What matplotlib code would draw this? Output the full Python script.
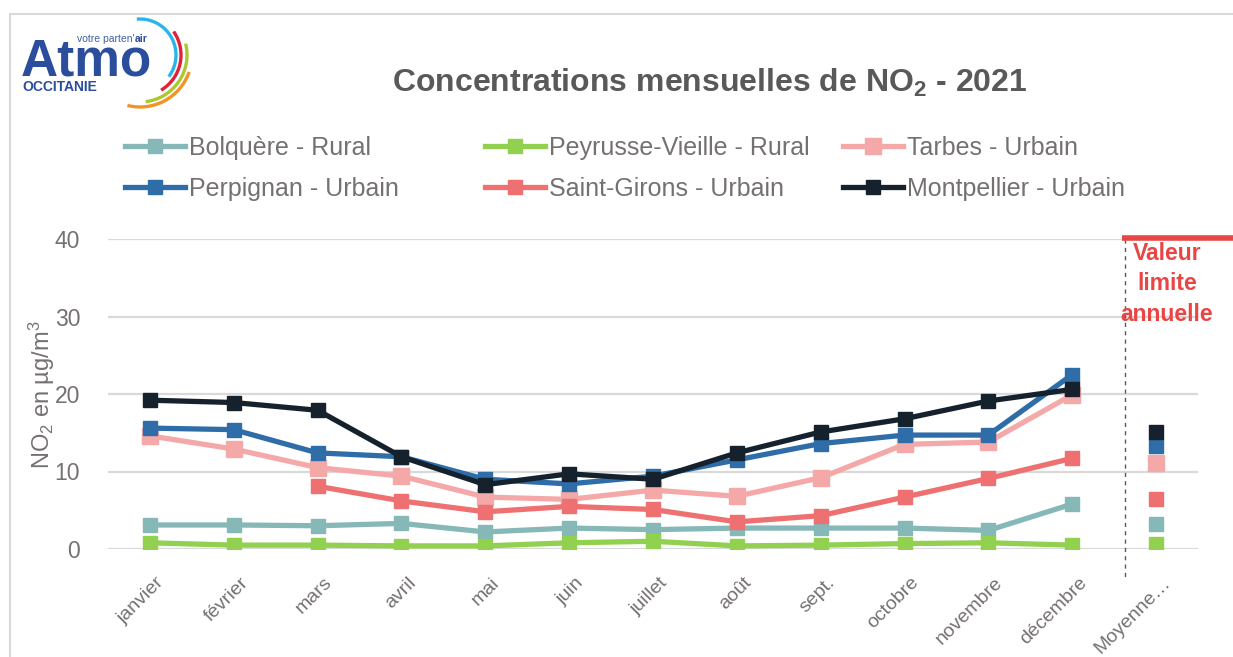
import numpy as np
import matplotlib
matplotlib.use("Agg")
import matplotlib.pyplot as plt
from matplotlib import font_manager
from matplotlib.patches import Arc, Rectangle
from matplotlib.transforms import ScaledTranslation

W, H = 1233, 657

# ---- data ----
months = ['janvier', 'février', 'mars', 'avril', 'mai', 'juin', 'juillet',
          'août', 'sept.', 'octobre', 'novembre', 'décembre']
last_label = 'Moyenne…'

bolquere = [3.1, 3.1, 3.0, 3.3, 2.2, 2.7, 2.5, 2.7, 2.7, 2.7, 2.4, 5.8]
peyrusse = [0.8, 0.5, 0.5, 0.4, 0.4, 0.8, 1.0, 0.4, 0.5, 0.7, 0.8, 0.5]
tarbes = [14.6, 12.9, 10.5, 9.4, 6.7, 6.4, 7.6, 6.8, 9.2, 13.5, 13.8, 19.9]
perpignan = [15.6, 15.4, 12.4, 11.9, 9.0, 8.4, 9.4, 11.5, 13.6, 14.7, 14.7, 22.5]
saint_girons = [np.nan, np.nan, 8.1, 6.2, 4.8, 5.5, 5.1, 3.5, 4.3, 6.7, 9.1, 11.7]
montpellier = [19.2, 18.9, 17.9, 11.9, 8.3, 9.7, 9.0, 12.4, 15.1, 16.8, 19.1, 20.6]

# annual means (last category)
mean_bolquere = 3.2
mean_peyrusse = 0.7
mean_tarbes = 11.1
mean_perpignan = 13.3
mean_saint_girons = 6.5
mean_montpellier = 15.1

limit_value = 40

names = ['Bolquère - Rural', 'Peyrusse-Vieille - Rural', 'Tarbes - Urbain',
         'Perpignan - Urbain', 'Saint-Girons - Urbain', 'Montpellier - Urbain']
colors = ['#86B8B7', '#92D050', '#F4A9A8', '#2E6DA8', '#EE7070', '#15222E']

# ---- fonts ----
installed = {f.name for f in font_manager.fontManager.ttflist}
narrow = 'Liberation Sans Narrow' if 'Liberation Sans Narrow' in installed else 'Liberation Sans'
plt.rcParams['font.family'] = [narrow, 'DejaVu Sans']
plt.rcParams['mathtext.default'] = 'regular'

grey_txt = '#767171'


def px(x, y):
    return x / W, 1 - y / H


fig = plt.figure(figsize=(W / 100, H / 100), dpi=100)

# outer frame
fig.patches.append(Rectangle(px(10, 700), 1.2, (700 - 14) / H, transform=fig.transFigure,
                             fill=False, edgecolor='#D9D9D9', lw=1.5))

# ---- main axes ----
ax = fig.add_axes([108 / W, 1 - 549 / H, 1090 / W, 310 / H])
x = np.arange(len(months))
series = [bolquere, peyrusse, tarbes, perpignan, saint_girons, montpellier]
means = [mean_bolquere, mean_peyrusse, mean_tarbes, mean_perpignan,
         mean_saint_girons, mean_montpellier]
handles = []
for vals, m, name, c in zip(series, means, names, colors):
    ms = 12 if c == '#F4A9A8' else 10
    h, = ax.plot(x, vals, color=c, lw=3.8, marker='s', ms=ms, mec=c, label=name,
                 solid_joinstyle='miter')
    ax.plot([len(months)], [m], ls='none', marker='s', ms=ms, color=c)
    handles.append(h)

ax.set_xlim(-0.5, 12.5)
ax.set_ylim(0, 40)
ax.set_yticks([0, 10, 20, 30, 40])
ax.grid(axis='y', color='#D9D9D9', lw=1.6)
ax.set_axisbelow(True)
for s in ax.spines.values():
    s.set_visible(False)
ax.tick_params(length=0)
ax.tick_params(axis='y', pad=20, labelsize=16.5, labelcolor=grey_txt)
ax.set_xticks(np.arange(len(months) + 1))
ax.set_xticklabels(months + [last_label], rotation=45, ha='right', va='center',
                   rotation_mode='anchor', fontsize=14, color=grey_txt)
ax.tick_params(axis='x', pad=0)
off = ScaledTranslation(0.12, -0.31, fig.dpi_scale_trans)
for lab in ax.get_xticklabels():
    lab.set_transform(lab.get_transform() + off)

# separation before the annual mean + limit value
ax.plot([11.63, 11.63], [40, -4.0], ls=(0, (3, 3)), color='#595959', lw=1, clip_on=False)
ax.plot([11.59, 13.0], [limit_value + 0.15, limit_value + 0.15], color='#E84545', lw=4,
        clip_on=False, solid_capstyle='butt')
fig.text(*px(1167, 284), 'Valeur\nlimite\nannuelle', ha='center', va='center',
         fontsize=16.5, fontweight='bold', color='#E84545', linespacing=1.4)

# y label
fig.text(*px(42, 395), 'NO$_2$ en µg/m$^3$', rotation=90, ha='center', va='center',
         fontsize=17, color=grey_txt)

# title
fig.text(*px(710, 92), 'Concentrations mensuelles de NO$_2$ - 2021', ha='center',
         va='baseline', fontsize=23, fontweight='bold', color='#595959')

# legend: three columns placed individually
cols = [(handles[0], handles[3], 125), (handles[1], handles[4], 485), (handles[2], handles[5], 843)]
for h1, h2, xl in cols:
    fig.legend(handles=[h1, h2], loc='upper left', bbox_to_anchor=px(xl, 136),
               frameon=False, fontsize=18, labelcolor=grey_txt, handlelength=2.4,
               handletextpad=0.15, labelspacing=0.68, borderpad=0, borderaxespad=0)

# ---- logo ----
lg = fig.add_axes([11 / W, 1 - 113 / H, 191 / W, 98 / H])
lg.set_xlim(11, 202)
lg.set_ylim(113, 15)
lg.axis('off')
lg.text(21, 75, 'Atmo', fontsize=37, fontweight='bold', color='#2A4D9C',
        family='Liberation Sans', va='baseline')
lg.text(22, 91, 'OCCITANIE', fontsize=10, fontweight='bold', color='#2A4D9C',
        family='Liberation Sans', va='baseline')
t = lg.text(77, 42, "votre parten'", fontsize=7.5, color='#3F5FA8',
            family='Liberation Sans', va='baseline')
lg.annotate('air', xy=(1, 0), xycoords=t, va='bottom', ha='left', fontsize=7.5,
            fontweight='bold', color='#2A4D9C', family='Liberation Sans')
for r, t1, t2, c in [(36, -95, 37, '#29B5E8'), (41, -35, 59, '#E3203A'),
                     (47, -14, 83, '#A9C92F'), (52, 19, 104, '#F39324')]:
    lg.add_patch(Arc((140, 55), 2 * r, 2 * r, theta1=t1, theta2=t2, color=c, lw=2.4))

fig.savefig('out.png', dpi=100)
